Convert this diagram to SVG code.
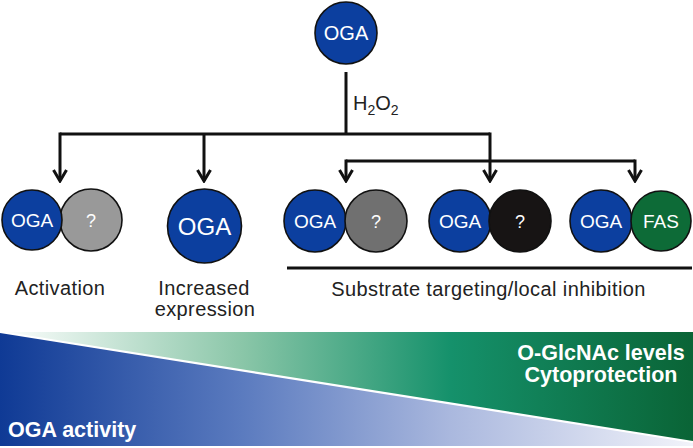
<svg xmlns="http://www.w3.org/2000/svg" width="693" height="448" viewBox="0 0 693 448">
<defs>
<style>
.oga{fill:#0c3f9f;stroke:#111;stroke-width:1.6}
.p{stroke:#111;stroke-width:1.6}
.wt{fill:#fff;font-family:"Liberation Sans",Arial,sans-serif;text-anchor:middle}
.lbl{fill:#222;font-family:"Liberation Sans",Arial,sans-serif;text-anchor:middle;font-size:20px;letter-spacing:0.4px}
.con{fill:none;stroke:#111;stroke-width:3;stroke-linejoin:miter}
.bt{fill:#fff;font-family:"Liberation Sans",Arial,sans-serif;font-weight:bold;font-size:21.5px}
</style>
<marker id="ah" markerUnits="userSpaceOnUse" viewBox="-14 -9 16 18" refX="0" refY="0" markerWidth="16" markerHeight="18" orient="auto">
<path d="M-11,-6.5 L0,0 L-11,6.5" fill="none" stroke="#111" stroke-width="3"/>
</marker>
<linearGradient id="gG" x1="0" y1="0" x2="693" y2="0" gradientUnits="userSpaceOnUse">
<stop offset="0" stop-color="#ffffff"/>
<stop offset="0.35" stop-color="#8ac6a8"/>
<stop offset="0.65" stop-color="#15916b"/>
<stop offset="1" stop-color="#0a6436"/>
</linearGradient>
<linearGradient id="bG" x1="0" y1="0" x2="693" y2="0" gradientUnits="userSpaceOnUse">
<stop offset="0" stop-color="#0f3a95"/>
<stop offset="0.35" stop-color="#5b7bbf"/>
<stop offset="0.65" stop-color="#aab8de"/>
<stop offset="1" stop-color="#f2f3fa"/>
</linearGradient>
</defs>
<rect width="693" height="448" fill="#fff"/>

<g id="band">
<polygon points="0,332 693,332 693,442" fill="url(#gG)"/>
<polygon points="0,332 693,442 693,446 0,446" fill="url(#bG)"/>
<line x1="0" y1="332" x2="693" y2="442" stroke="#fff" stroke-width="2.2"/>
<text class="bt" x="601" y="360" text-anchor="middle">O-GlcNAc levels</text>
<text class="bt" x="601" y="382" text-anchor="middle">Cytoprotection</text>
<text class="bt" x="8" y="437" font-size="22px">OGA activity</text>
</g>

<g id="connectors">
<line class="con" x1="346" y1="72" x2="346" y2="134"/>
<path class="con" d="M60,134 H490"/>
<path class="con" d="M60,132.5 V181" marker-end="url(#ah)"/>
<path class="con" d="M204,134 V181" marker-end="url(#ah)"/>
<path class="con" d="M490,132.5 V181" marker-end="url(#ah)"/>
<path class="con" d="M346,161 H635"/>
<path class="con" d="M346,159.5 V181" marker-end="url(#ah)"/>
<path class="con" d="M635,159.5 V181" marker-end="url(#ah)"/>
<line x1="287" y1="268" x2="692" y2="268" stroke="#111" stroke-width="3"/>
<text font-family="Liberation Sans, Arial, sans-serif" font-size="20" fill="#222" x="353" y="110">H<tspan font-size="14" dy="5">2</tspan><tspan dy="-5">O</tspan><tspan font-size="14" dy="5">2</tspan></text>
</g>

<g id="oga-top">
<circle class="oga" cx="346" cy="33" r="31"/>
<text class="wt" x="346" y="39.5" font-size="20">OGA</text>
</g>

<g id="activation">
<circle class="p" cx="91" cy="220" r="31" fill="#999999"/>
<circle class="oga" cx="32" cy="220" r="30"/>
<text class="wt" x="32" y="227" font-size="19">OGA</text>
<text class="wt" x="91" y="227" font-size="18" fill="#e8e8e8">?</text>
<text class="lbl" x="60" y="295">Activation</text>
</g>

<g id="increased">
<circle class="oga" cx="204.5" cy="226" r="37"/>
<text class="wt" x="204.5" y="235" font-size="24">OGA</text>
<text class="lbl" x="204" y="295">Increased</text>
<text class="lbl" x="205" y="316">expression</text>
</g>

<g id="pair-gray">
<circle class="oga" cx="315" cy="221" r="31"/>
<circle class="p" cx="376" cy="221" r="31" fill="#707070"/>
<text class="wt" x="315" y="228" font-size="19">OGA</text>
<text class="wt" x="376" y="228" font-size="18">?</text>
</g>

<g id="pair-black">
<circle class="oga" cx="460" cy="221" r="31"/>
<circle class="p" cx="520" cy="221" r="31" fill="#171414"/>
<text class="wt" x="460" y="228" font-size="19">OGA</text>
<text class="wt" x="520" y="228" font-size="18">?</text>
</g>

<g id="pair-fas">
<circle class="oga" cx="601" cy="221" r="31"/>
<circle class="p" cx="661" cy="221" r="30" fill="#0d6b37"/>
<text class="wt" x="601" y="228" font-size="19">OGA</text>
<text class="wt" x="661" y="228" font-size="19">FAS</text>
</g>

<g id="substrate-label">
<text class="lbl" x="488.5" y="296">Substrate targeting/local inhibition</text>
</g>
</svg>
